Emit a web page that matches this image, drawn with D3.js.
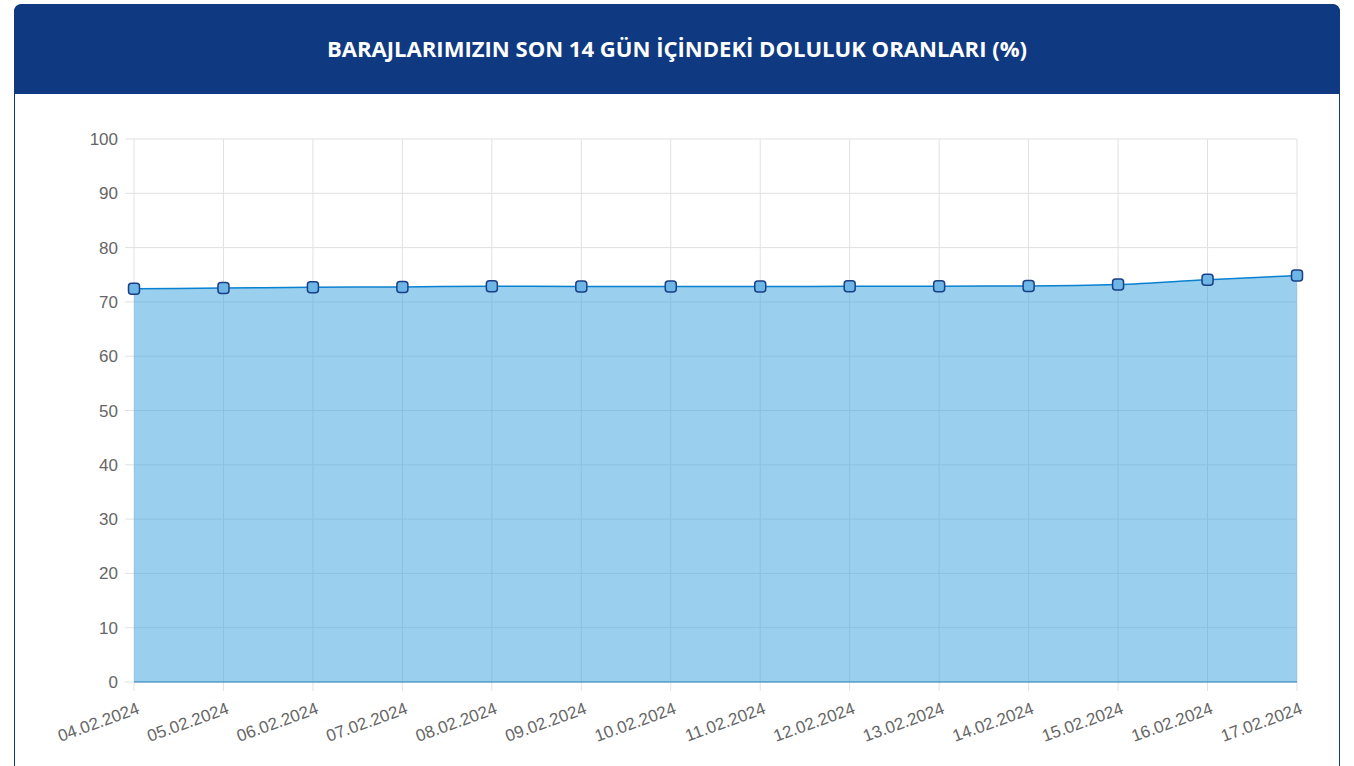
<!DOCTYPE html>
<html>
<head>
<meta charset="utf-8">
<script src="https://cdn.jsdelivr.net/npm/d3@7"></script>
<style>
  body { margin: 0; background: #fff; }
  svg text { font-family: "Liberation Sans", Arial, sans-serif; }
</style>
</head>
<body>
<svg width="1354" height="766"></svg>
<script>
// dates on the x axis
const dates = ["04.02.2024", "05.02.2024", "06.02.2024", "07.02.2024", "08.02.2024",
  "09.02.2024", "10.02.2024", "11.02.2024", "12.02.2024", "13.02.2024",
  "14.02.2024", "15.02.2024", "16.02.2024", "17.02.2024"];
// fill ratio (%)
const doluluk = [72.43, 72.56, 72.7, 72.76, 72.88, 72.84, 72.82, 72.82, 72.88, 72.9,
  72.93, 73.2, 74.1, 74.85];
const yTicks = [0, 10, 20, 30, 40, 50, 60, 70, 80, 90, 100];

const svg = d3.select("svg");

// card + header
svg.append("rect")
  .attr("x", 14.5).attr("y", 4.5).attr("width", 1325).attr("height", 800)
  .attr("rx", 8).attr("fill", "#fff").attr("stroke", "#0f3a82");
svg.append("path")
  .attr("d", "M14,94 V12 Q14,4 22,4 H1332 Q1340,4 1340,12 V94 Z")
  .attr("fill", "#0f3a82");
svg.append("text")
  .attr("x", 677).attr("y", 57)
  .attr("text-anchor", "middle")
  .attr("fill", "#fff")
  .style("font-family", "'Open Sans', sans-serif")
  .attr("font-weight", 700)
  .attr("font-size", 21)
  .attr("textLength", 700)
  .attr("lengthAdjust", "spacingAndGlyphs")
  .text("BARAJLARIMIZIN SON 14 GÜN İÇİNDEKİ DOLULUK ORANLARI (%)");

const x = d3.scalePoint().domain(dates).range([134, 1297]);
const y = d3.scaleLinear().domain([0, 100]).range([682, 139]);

// grid
const grid = svg.append("g");
grid.selectAll(".gy").data(yTicks).join("line")
  .attr("x1", 125).attr("x2", 1297)
  .attr("y1", d => y(d)).attr("y2", d => y(d))
  .attr("stroke", "#e1e1e1");
grid.selectAll(".gx").data(dates).join("line")
  .attr("x1", d => x(d)).attr("x2", d => x(d))
  .attr("y1", 139).attr("y2", 691)
  .attr("stroke", "#e1e1e1");

// y labels
svg.append("g").selectAll("text").data(yTicks).join("text")
  .attr("x", 118).attr("y", d => y(d) + 6)
  .attr("text-anchor", "end")
  .attr("fill", "#666")
  .attr("font-size", 17)
  .text(d => d);

// x labels, rotated
svg.append("g").selectAll("text").data(dates).join("text")
  .attr("transform", d => `translate(${x(d) + 2},${701}) rotate(-20)`)
  .attr("text-anchor", "end")
  .attr("dy", "0.75em")
  .attr("fill", "#666")
  .attr("font-size", 17)
  .text(d => d);

// area + line
const curve = d3.curveMonotoneX;
const area = d3.area()
  .x((d, i) => x(dates[i]))
  .y0(y(0))
  .y1(d => y(d))
  .curve(curve);
const line = d3.line()
  .x((d, i) => x(dates[i]))
  .y(d => y(d))
  .curve(curve);

svg.append("path").datum(doluluk)
  .attr("d", area)
  .attr("fill", "rgba(54,160,220,0.5)");
svg.append("line")
  .attr("x1", x(dates[0])).attr("x2", x(dates[dates.length - 1]))
  .attr("y1", y(0)).attr("y2", y(0))
  .attr("stroke", "rgba(40,130,190,0.5)").attr("stroke-width", 2);
svg.append("path").datum(doluluk)
  .attr("d", line)
  .attr("fill", "none")
  .attr("stroke", "#0a80d0")
  .attr("stroke-width", 1.5);

// point markers (rounded squares)
svg.append("g").selectAll("rect").data(doluluk).join("rect")
  .attr("x", (d, i) => x(dates[i]) - 5.5)
  .attr("y", d => y(d) - 5.5)
  .attr("width", 11).attr("height", 11)
  .attr("rx", 3)
  .attr("fill", "#6db6e6")
  .attr("stroke", "#1b3f85")
  .attr("stroke-width", 1.5);
</script>
</body>
</html>
